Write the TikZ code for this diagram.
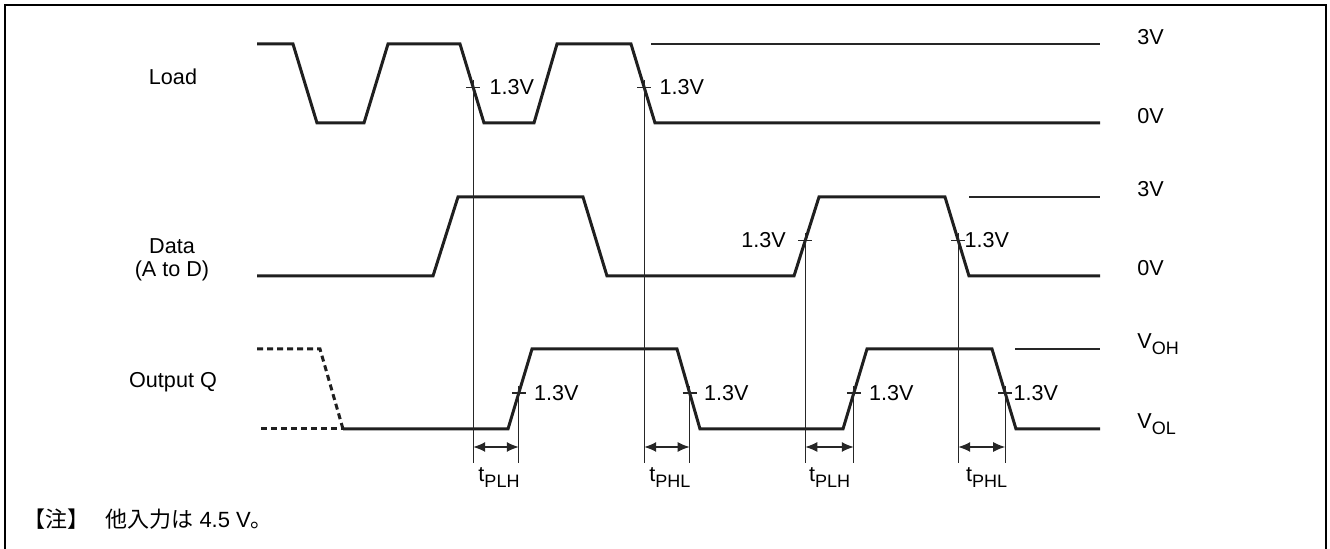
\documentclass[tikz,border=0pt]{standalone}
\usepackage{fontspec}
\setmainfont{Liberation Sans}
\newfontfamily\jpfont{Noto Sans CJK JP}
\usetikzlibrary{arrows.meta,calc}
\newcommand\mysub[1]{\raisebox{-3pt}{\fontsize{9}{10}\selectfont #1}}
\begin{document}
\begin{tikzpicture}[x=0.5pt,y=-0.5pt,
  sig/.style={line width=1.5pt, line join=miter, color=black!88},
  thinl/.style={line width=0.65pt, color=black!85},
  lbl/.style={inner sep=0pt, font=\fontsize{10.8}{13}\selectfont},
  dimarrow/.style={thinl, {Latex[length=6pt,width=5pt]}-{Latex[length=6pt,width=5pt]}},
  ]
\useasboundingbox (0,0) rectangle (1330,549);
% frame (open at bottom)
\draw[line width=1pt] (5,560) -- (5,5) -- (1326,5) -- (1326,560);

% Load
\draw[sig] (257,44) -- (293,44) -- (317,123) -- (364,123) -- (388,44) -- (460,44) -- (484,123) -- (534,123) -- (557,44) -- (631,44) -- (655,123) -- (1100,123);
\draw[thinl] (651,44) -- (1100,44);
% Data
\draw[sig] (257,276) -- (433,276) -- (458,197) -- (583,197) -- (607,276) -- (794,276) -- (819,197) -- (945,197) -- (969,276) -- (1100,276);
\draw[thinl] (969,197) -- (1100,197);
% Output Q
\draw[sig, dash pattern=on 3pt off 2pt] (257,349) -- (320,349) -- (343,429);
\draw[sig, dash pattern=on 3pt off 2pt] (261,429) -- (343,429);
\draw[sig] (343,429) -- (508,429) -- (532,349) -- (677,349) -- (700,429) -- (843,429) -- (867,349) -- (992,349) -- (1016,429) -- (1100,429);
\draw[thinl] (1015,349) -- (1100,349);

% 1.3V crossing points
\coordinate (L1) at ($(460,44)!0.55!(484,123)$);
\coordinate (L2) at ($(631,44)!0.55!(655,123)$);
\coordinate (D1) at ($(794,276)!0.45!(819,197)$);
\coordinate (D2) at ($(945,197)!0.55!(969,276)$);
\coordinate (O1) at ($(508,429)!0.45!(532,349)$);
\coordinate (O2) at ($(677,349)!0.55!(700,429)$);
\coordinate (O3) at ($(843,429)!0.45!(867,349)$);
\coordinate (O4) at ($(992,349)!0.55!(1016,429)$);
\coordinate (bot) at (0,463);
\coordinate (ay) at (0,447);

\foreach \c in {L1,L2,D1,D2,O1,O2,O3,O4} {
  \draw[thinl] ([xshift=-3.5pt]\c) -- ([xshift=3.5pt]\c);
  \draw[thinl] ([yshift=3.5pt]\c) -- (\c |- bot);
}

% 1.3V labels
\node[lbl, anchor=west] at ($(L1)+(16,0)$) {1.3V};
\node[lbl, anchor=west] at ($(L2)+(15,0)$) {1.3V};
\node[lbl, anchor=east] at ($(D1)+(-19,0)$) {1.3V};
\node[lbl, anchor=west] at ($(D2)+(6,0)$) {1.3V};
\node[lbl, anchor=west] at ($(O1)+(15,0)$) {1.3V};
\node[lbl, anchor=west] at ($(O2)+(14,0)$) {1.3V};
\node[lbl, anchor=west] at ($(O3)+(15,0)$) {1.3V};
\node[lbl, anchor=west] at ($(O4)+(8,0)$) {1.3V};

% dimension arrows
\draw[dimarrow] (L1 |- ay) -- (O1 |- ay);
\draw[dimarrow] (L2 |- ay) -- (O2 |- ay);
\draw[dimarrow] (D1 |- ay) -- (O3 |- ay);
\draw[dimarrow] (D2 |- ay) -- (O4 |- ay);

\node[lbl, anchor=north] (t1) at ($(L1 |- 0,467)!0.5!(O1 |- 0,467)+(3,0)$) {t\mysub{PLH}};
\node[lbl, anchor=north] (t2) at ($(L2 |- 0,467)!0.5!(O2 |- 0,467)+(3,0)$) {t\mysub{PHL}};
\node[lbl, anchor=north] (t3) at ($(D1 |- 0,467)!0.5!(O3 |- 0,467)+(0,0)$) {t\mysub{PLH}};
\node[lbl, anchor=north] (t4) at ($(D2 |- 0,467)!0.5!(O4 |- 0,467)+(5,0)$) {t\mysub{PHL}};

% level labels
\node[lbl, anchor=base west] (l3a) at (1137,45) {3V};
\node[lbl, anchor=base west] (l0a) at (1137,124) {0V};
\node[lbl, anchor=base west] (l3b) at (1137,197) {3V};
\node[lbl, anchor=base west] (l0b) at (1137,276) {0V};
\node[lbl, anchor=base west] (loh) at (1137,349) {V\mysub{OH}};
\node[lbl, anchor=base west] (lol) at (1137,429) {V\mysub{OL}};

% signal names
\node[lbl] (nload) at (173,77) {Load};
\node[lbl] (ndata) at (172,246) {Data};
\node[lbl] (nad) at (172,271) {(A to D)};
\node[lbl] (nout) at (173,382) {Output Q};

% note
\node[inner sep=0pt, anchor=west, font=\fontsize{11}{13}\selectfont] (note) at (23,519) {{\jpfont 【注】}\hspace{8pt}{\jpfont 他入力は} 4.5 V{\jpfont 。}};
\end{tikzpicture}
\end{document}
